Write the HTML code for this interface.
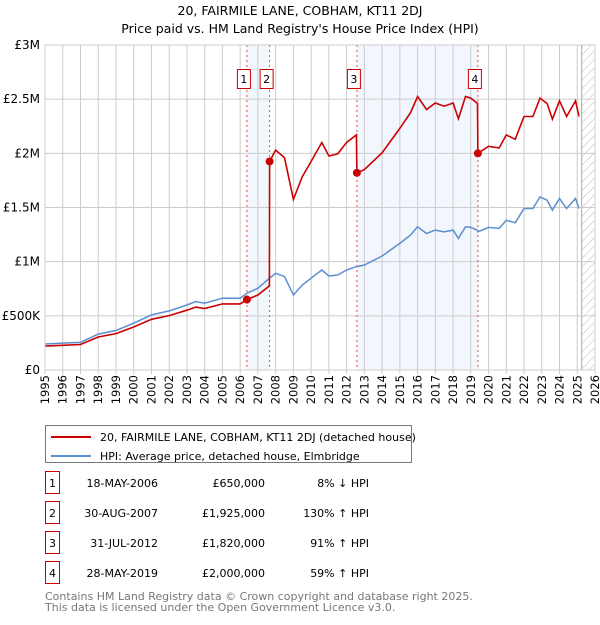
<!DOCTYPE html>
<html><head><meta charset="utf-8"><style>
body{margin:0;background:#fff;font-family:"Liberation Sans","DejaVu Sans",sans-serif;}
svg text{font-family:"DejaVu Sans","Liberation Sans",sans-serif;}
</style></head><body>
<svg id="c" width="600" height="620" xmlns="http://www.w3.org/2000/svg">
<defs><pattern id="hatch" width="6" height="6" patternUnits="userSpaceOnUse" patternTransform="rotate(45)"><line x1="0" y1="0" x2="0" y2="6" stroke="#bbb" stroke-width="1"/></pattern></defs>
<text x="300" y="15" text-anchor="middle" font-size="12.5">20, FAIRMILE LANE, COBHAM, KT11 2DJ</text>
<text x="300" y="33" text-anchor="middle" font-size="12.5">Price paid vs. HM Land Registry's House Price Index (HPI)</text>
<g id="plot"></g>
<rect x="45.5" y="425.5" width="366" height="37" fill="#fff" stroke="#777"/>
<line x1="51" y1="437" x2="91" y2="437" stroke="#cc0000" stroke-width="2"/>
<text x="100" y="441" font-size="11">20, FAIRMILE LANE, COBHAM, KT11 2DJ (detached house)</text>
<line x1="51" y1="456" x2="91" y2="456" stroke="#5b8fd0" stroke-width="2"/>
<text x="100" y="460" font-size="11">HPI: Average price, detached house, Elmbridge</text>
<g id="table" font-size="11"></g>
<text x="45" y="600" font-size="11" fill="#777">Contains HM Land Registry data © Crown copyright and database right 2025.</text>
<text x="45" y="611" font-size="11" fill="#777">This data is licensed under the Open Government Licence v3.0.</text>
</svg>
<script>
const years=[1995,1996,1997,1998,1999,2000,2001,2002,2003,2003.5,2004,2005,2006,2006.38,2007,2007.65,2007.66,2008,2008.5,2009,2009.5,2010,2010.6,2011,2011.5,2012,2012.55,2012.58,2013,2014,2015,2015.6,2016,2016.5,2017,2017.5,2018,2018.3,2018.7,2019,2019.38,2019.4,2020,2020.6,2021,2021.5,2022,2022.5,2022.9,2023.3,2023.6,2024,2024.4,2024.9,2025.1];
const hpiValues=[240,248,255,331,365,432,509,546,600,632,617,663,663,709,755,847,847,893,862,693,785,847,923,868,877,923,954,954,969,1052,1169,1245,1322,1260,1291,1276,1291,1215,1322,1316,1290,1276,1316,1307,1383,1359,1491,1491,1598,1567,1475,1583,1491,1583,1491];
const priceValues=[221,228,235,305,336,397,468,502,552,581,568,610,610,650,692,776,1925,2030,1960,1575,1785,1925,2100,1975,1995,2100,2170,1820,1850,2005,2230,2375,2525,2405,2465,2435,2465,2320,2525,2510,2460,2000,2065,2050,2170,2130,2340,2340,2510,2460,2315,2485,2340,2485,2340];
const saleLabels=["1","2","3","4"];
const saleYears=[2006.38,2007.66,2012.58,2019.4];
const salePrices=[650,1925,1820,2000];
const saleDates=["18-MAY-2006","30-AUG-2007","31-JUL-2012","28-MAY-2019"];
const salePriceText=["£650,000","£1,925,000","£1,820,000","£2,000,000"];
const saleHpiText=["8% ↓ HPI","130% ↑ HPI","91% ↑ HPI","59% ↑ HPI"];
const yTicks=[0,500,1000,1500,2000,2500,3000];
const yTickLabels=["£0","£500K","£1M","£1.5M","£2M","£2.5M","£3M"];
const xTicks=[1995,1996,1997,1998,1999,2000,2001,2002,2003,2004,2005,2006,2007,2008,2009,2010,2011,2012,2013,2014,2015,2016,2017,2018,2019,2020,2021,2022,2023,2024,2025,2026];

const X0=45,X1=595,Y0=370,Y1=45;
const xs=y=>X0+(y-1995)/31*(X1-X0);
const ys=v=>Y0-v/3000*(Y0-Y1);
const NS="http://www.w3.org/2000/svg";
const plot=document.getElementById('plot');
function mk(tag,attrs,parent){const e=document.createElementNS(NS,tag);for(const k in attrs)e.setAttribute(k,attrs[k]);(parent||plot).appendChild(e);return e;}

let e;
e=mk('rect',{x:X0,y:Y1,width:X1-X0,height:Y0-Y1,fill:'#fff'});


e=mk('rect',{x:xs(saleYears[0]),y:Y1,width:xs(saleYears[1])-xs(saleYears[0]),height:Y0-Y1,fill:'#f2f6fd'});


e=mk('rect',{x:xs(saleYears[2]),y:Y1,width:xs(saleYears[3])-xs(saleYears[2]),height:Y0-Y1,fill:'#f2f6fd'});


const hs=2025.25;
e=mk('rect',{x:xs(hs),y:Y1,width:X1-xs(hs),height:Y0-Y1,fill:'url(#hatch)'});


mk('line',{x1:xs(hs),y1:Y1,x2:xs(hs),y2:Y0,stroke:'#aaa'});

xTicks.forEach(t=>{
  e=mk('line',{x1:xs(t),y1:Y1,x2:xs(t),y2:Y0+4,stroke:'#ccc'});
  
  
  e=mk('text',{x:0,y:0,'text-anchor':'end','font-size':11.5,transform:'translate('+(xs(t)+4)+',375) rotate(-90)'});
  e.textContent=t;
  
  
});
yTicks.forEach((t,i)=>{
  e=mk('line',{x1:X0,y1:ys(t),x2:X1,y2:ys(t),stroke:'#ccc'});
  
  
  e=mk('text',{x:X0-5,y:ys(t)+4,'text-anchor':'end','font-size':12});
  e.textContent=yTickLabels[i];
  
  
});
saleYears.forEach((s,i)=>{
  e=mk('line',{x1:xs(s),y1:Y1,x2:xs(s),y2:Y0,stroke:'#e05050','stroke-dasharray':'2,3','stroke-width':1});
  
  
  const cx=xs(s)-3;
  e=mk('rect',{x:cx-6.5,y:69.5,width:13,height:19,fill:'#fff',stroke:'#cc0000'});
  
  
  e=mk('text',{x:cx,y:83,'text-anchor':'middle','font-size':11});
  e.textContent=saleLabels[i];
  
  
});
e=mk('path',{d:years.map((y,i)=>(i?'L':'M')+xs(y).toFixed(1)+','+ys(hpiValues[i]).toFixed(1)).join(''),fill:'none',stroke:'#5b8fd0','stroke-width':1.5});


e=mk('path',{d:years.map((y,i)=>(i?'L':'M')+xs(y).toFixed(1)+','+ys(priceValues[i]).toFixed(1)).join(''),fill:'none',stroke:'#cc0000','stroke-width':1.6});


saleYears.forEach((s,i)=>{
  e=mk('circle',{cx:xs(s),cy:ys(salePrices[i]),r:4,fill:'#cc0000'});
  
  
});
e=mk('rect',{x:X0,y:Y1,width:X1-X0,height:Y0-Y1,fill:'none',stroke:'#ccc'});

const tbl=document.getElementById('table');
saleLabels.forEach((l,i)=>{
  const cy=483+i*30;
  e=mk('rect',{x:45.5,y:cy-11.5,width:14,height:22,fill:'#fff',stroke:'#cc0000'},tbl);
  
  
  e=mk('text',{x:52.5,y:cy+4,'text-anchor':'middle'},tbl);e.textContent=l;
  
  
  e=mk('text',{x:158,y:cy+4,'text-anchor':'end'},tbl);e.textContent=saleDates[i];
  
  
  e=mk('text',{x:265,y:cy+4,'text-anchor':'end'},tbl);e.textContent=salePriceText[i];
  
  
  e=mk('text',{x:369,y:cy+4,'text-anchor':'end'},tbl);e.textContent=saleHpiText[i];
  
  
});
</script>
</body></html>
